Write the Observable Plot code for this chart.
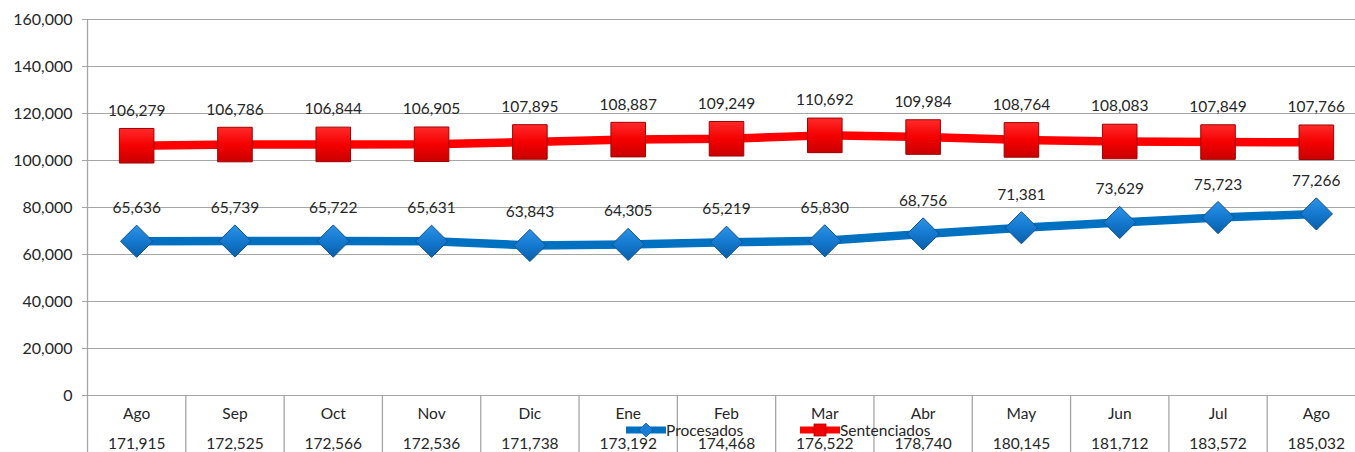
<!DOCTYPE html>
<html>
<head>
<meta charset="utf-8">
<script src="https://cdn.jsdelivr.net/npm/d3@7"></script>
<script src="https://cdn.jsdelivr.net/npm/@observablehq/plot@0.6"></script>
<style>
  body { margin: 0; background: #fff; font-family: "Lato", "Open Sans", sans-serif; }
  #wrap { position: relative; width: 1355px; height: 452px; overflow: hidden; }
  #chart svg { max-width: none !important; }
  #legend { position: absolute; top: 420px; left: 0; width: 1355px; height: 20px; font-size: 15.5px; color: #262626; }
  .li { position: absolute; top: 0; display: flex; align-items: center; height: 20px; }
</style>
</head>
<body>
<div id="wrap">
  <div id="chart"></div>
  <div id="legend">
    <div class="li" style="left:626px"><svg width="40" height="20"><line x1="1" y1="10" x2="39" y2="10" stroke="#0070c0" stroke-width="7" stroke-linecap="round"/><path d="M20,3 L27,10 L20,17 L13,10 Z" fill="#1a7fd4" stroke="#0b5ea8" stroke-width="0.8"/></svg><span>Procesados</span></div>
    <div class="li" style="left:800px"><svg width="40" height="20"><line x1="1" y1="10" x2="39" y2="10" stroke="#ff0000" stroke-width="7" stroke-linecap="round"/><rect x="14" y="4" width="12" height="12" fill="#f00000" stroke="#b00000" stroke-width="0.8"/></svg><span>Sentenciados</span></div>
  </div>
</div>
<script>
const months = ["Ago","Sep","Oct","Nov","Dic","Ene","Feb","Mar","Abr","May","Jun","Jul","Ago"];
const totals = [171915,172525,172566,172536,171738,173192,174468,176522,178740,180145,181712,183572,185032];
const procesados = [65636,65739,65722,65631,63843,64305,65219,65830,68756,71381,73629,75723,77266];
const sentenciados = [106279,106786,106844,106905,107895,108887,109249,110692,109984,108764,108083,107849,107766];
const yTicks = [0,20000,40000,60000,80000,100000,120000,140000,160000];

const fmt = d3.format(",");
const idx = d3.range(months.length);
const proc = idx.map(i => ({x: i + 0.5, v: procesados[i]}));
const sent = idx.map(i => ({x: i + 0.5, v: sentenciados[i]}));
const centers = idx.map(i => i + 0.5);

const plot = Plot.plot({
  width: 1365,
  height: 452,
  marginLeft: 87,
  marginRight: 0,
  marginTop: 19,
  marginBottom: 57,
  style: {fontFamily: "Lato, 'Open Sans', sans-serif", fontSize: "15.5px", color: "#262626", background: "#fff", maxWidth: "none"},
  x: {type: "linear", domain: [0, months.length]},
  y: {domain: [0, 160000]},
  marks: [
    Plot.ruleY(yTicks, {stroke: "#a6a6a6", strokeWidth: 1, strokeOpacity: 1}),
    Plot.ruleX([0], {stroke: "#a6a6a6", strokeWidth: 1.3}),
    Plot.axisY({ticks: yTicks, tickFormat: d => fmt(d), tickSize: 5, tickPadding: 10, stroke: "#a6a6a6", fontSize: 16, label: null}),
    Plot.axisX({ticks: d3.range(months.length + 1), tickSize: 57, tickFormat: () => "", stroke: "#a6a6a6", strokeWidth: 1.3, label: null}),
    Plot.axisX({ticks: centers, tickSize: 0, tickPadding: 12, tickFormat: d => months[Math.floor(d)], fontSize: 15.5, label: null}),
    Plot.axisX({ticks: centers, tickSize: 0, tickPadding: 42, tickFormat: d => fmt(totals[Math.floor(d)]), fontSize: 15.5, label: null}),
    Plot.line(sent, {x: "x", y: "v", stroke: "#ff0000", strokeWidth: 8.5}),
    Plot.line(proc, {x: "x", y: "v", stroke: "#0070c0", strokeWidth: 8.5}),
    Plot.dot(sent, {x: "x", y: "v", symbol: "square", r: 19.5, fill: "url(#gradRed)", stroke: "#a00000", strokeWidth: 1}),
    Plot.dot(proc, {x: "x", y: "v", symbol: "diamond2", r: 14.5, fill: "url(#gradBlue)", stroke: "#0b5090", strokeWidth: 1}),
    Plot.text(sent, {x: "x", y: "v", text: d => fmt(d.v), dy: -35, fontSize: 15.5, fill: "#262626"}),
    Plot.text(proc, {x: "x", y: "v", text: d => fmt(d.v), dy: -33, fontSize: 15.5, fill: "#262626"})
  ]
});

const ns = "http://www.w3.org/2000/svg";
const defs = document.createElementNS(ns, "defs");
defs.innerHTML = `
<linearGradient id="gradRed" x1="0" y1="0" x2="0" y2="1">
  <stop offset="0" stop-color="#ff2a2a"/>
  <stop offset="0.5" stop-color="#f50000"/>
  <stop offset="1" stop-color="#c80000"/>
</linearGradient>
<linearGradient id="gradBlue" x1="0" y1="0" x2="0" y2="1">
  <stop offset="0" stop-color="#2d93e6"/>
  <stop offset="0.5" stop-color="#1479cf"/>
  <stop offset="1" stop-color="#0a5fa8"/>
</linearGradient>`;
plot.insertBefore(defs, plot.firstChild);
plot.style.maxWidth = "none";
document.getElementById("chart").appendChild(plot);
</script>
</body>
</html>
